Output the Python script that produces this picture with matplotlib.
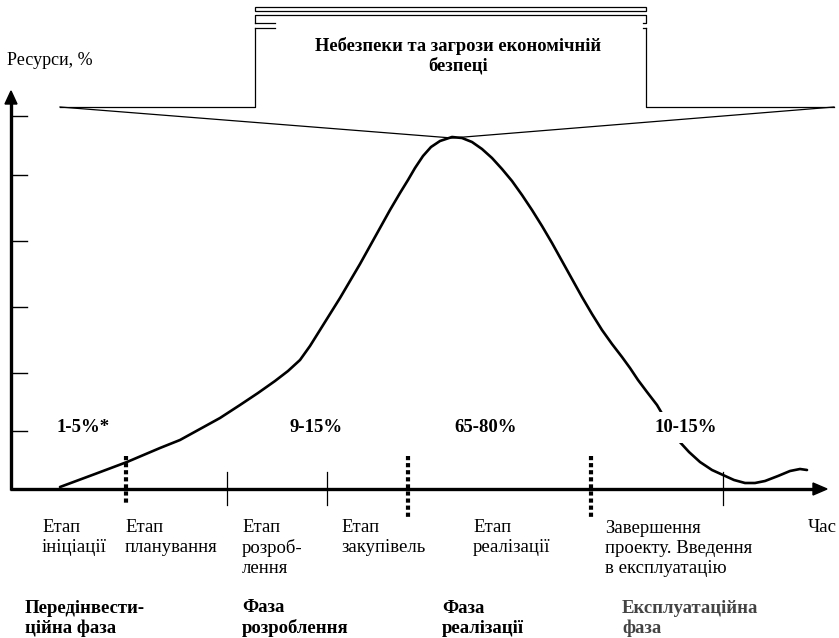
import matplotlib
matplotlib.use("Agg")
import matplotlib.pyplot as plt
from matplotlib.patches import Rectangle

# ---- data ----
curve_x = [60, 95, 127, 160, 180, 200, 220, 240, 258, 275, 288, 300, 310, 320,
           330, 340, 350, 360, 370, 380, 390, 400, 408, 415, 423, 431, 440,
           452, 462, 472, 482, 492, 502, 512, 522, 532, 542, 552, 562, 572,
           582, 592, 602, 612, 622, 630, 638, 647, 657, 667, 678, 689, 700,
           712, 723, 734, 745, 755, 765, 778, 790, 800, 807]
curve_y = [487, 474, 462, 448, 440, 429, 418, 405, 393, 381, 371, 360, 346, 330,
           314, 298, 281, 264, 246, 228, 210, 193, 180, 168, 156, 147, 141,
           137, 138, 142, 149, 158, 169, 181, 195, 210, 226, 243, 261, 279,
           297, 314, 330, 344, 357, 368, 380, 392, 405, 422, 440, 452, 462,
           470, 475, 480, 483, 483, 481, 476, 471, 469, 470]

yticks = [116, 175, 241, 307, 373, 431]
solid_ticks = [227, 327, 723]
dotted_ticks = [126, 408, 591]
dotted_bottoms = [503, 518, 518]

percent_labels = ["1-5%*", "9-15%", "65-80%", "10-15%"]
stage_labels = ["Етап\nініціації", "Етап\nпланування", "Етап\nрозроб-\nлення",
                "Етап\nзакупівель", "Етап\nреалізації",
                "Завершення\nпроекту. Введення\nв експлуатацію"]
phase_labels = ["Передінвести-\nційна фаза", "Фаза\nрозроблення",
                "Фаза\nреалізації", "Експлуатаційна\nфаза"]
title_text = "Небезпеки та загрози економічній\nбезпеці"
y_label = "Ресурси, %"
x_label = "Час"

# ---- layout ----
W, H = 839, 638
fig = plt.figure(figsize=(W / 100, H / 100), dpi=100)
ax = fig.add_axes([0, 0, 1, 1])
ax.set_xlim(0, W)
ax.set_ylim(H, 0)
ax.axis("off")

serif = ["Liberation Serif", "DejaVu Serif"]
FS = 13.5
LSTEP = 21  # pixel distance between text lines


def ml_text(x, y_first_baseline, s, **kw):
    n = s.count("\n")
    ax.text(x, y_first_baseline + n * LSTEP, s, va="baseline",
            linespacing=1.22, family=serif, **kw)


# axes
x0, y0 = 11, 489
ax.plot([x0, x0], [y0 + 1, 100], color="k", lw=2.4, solid_capstyle="butt")
ax.plot([x0 - 1, 814], [y0, y0], color="k", lw=2.4, solid_capstyle="butt")
ax.fill([x0, x0 - 6, x0 + 6], [91, 104, 104], color="k")
ax.fill([827, 813, 813], [y0, y0 - 6, y0 + 6], color="k")

for t in yticks:
    ax.plot([x0, 27], [t, t], color="k", lw=1.0)
for t in solid_ticks:
    ax.plot([t, t], [472, 505], color="k", lw=0.9)
for t, b in zip(dotted_ticks, dotted_bottoms):
    ax.plot([t, t], [456, b], color="k", lw=3.0, linestyle=(0, (1, 0.7)),
            dash_capstyle="butt")

# curve
ax.plot(curve_x, curve_y, color="k", lw=1.9, solid_capstyle="round",
        solid_joinstyle="round")

# funnel / box
ax.plot([60, 452, 834], [107, 138, 107], color="k", lw=0.9)
ax.plot([60, 255, 255], [107, 107, 28], color="k", lw=0.9)
ax.plot([834, 646, 646], [107, 107, 28], color="k", lw=0.9)
ax.plot([255, 275], [23, 23], color="k", lw=0.9)
ax.plot([255, 275], [28, 28], color="k", lw=0.9)
ax.plot([255, 255, 646, 646, 643], [23, 15, 15, 23, 23], color="k", lw=0.9)
ax.plot([643, 646], [28, 28], color="k", lw=0.9)
ax.add_patch(Rectangle((255, 7), 391, 4, facecolor="none", edgecolor="k", lw=0.9))
ml_text(458, 50, title_text, ha="center", fontsize=13.3, fontweight="bold")

# percent labels
pct_pos = [(83, 432), (316, 432), (486, 432), (686, 432)]
for (px, py), s in zip(pct_pos, percent_labels):
    ax.text(px, py, s, ha="center", va="baseline", fontsize=FS, fontweight="bold",
            family=serif, zorder=5,
            bbox=dict(facecolor="white", edgecolor="none", pad=5) if s == "10-15%" else None)

# stage labels
stage_pos = [42, 125, 242, 341, 473, 605]
for sx, s in zip(stage_pos, stage_labels):
    ml_text(sx, 531, s, ha="left", fontsize=FS)
ax.text(808, 532, x_label, ha="left", va="baseline", fontsize=FS, family=serif)
ax.text(7, 65, y_label, ha="left", va="baseline", fontsize=13, family=serif)

# phase labels
phase_pos = [25, 242, 442, 622]
phase_col = ["k", "k", "k", "#444444"]
for px, s, c in zip(phase_pos, phase_labels, phase_col):
    ml_text(px, 612, s, ha="left", fontsize=FS, fontweight="bold", color=c)

fig.savefig("out.png", dpi=100, facecolor="white")
